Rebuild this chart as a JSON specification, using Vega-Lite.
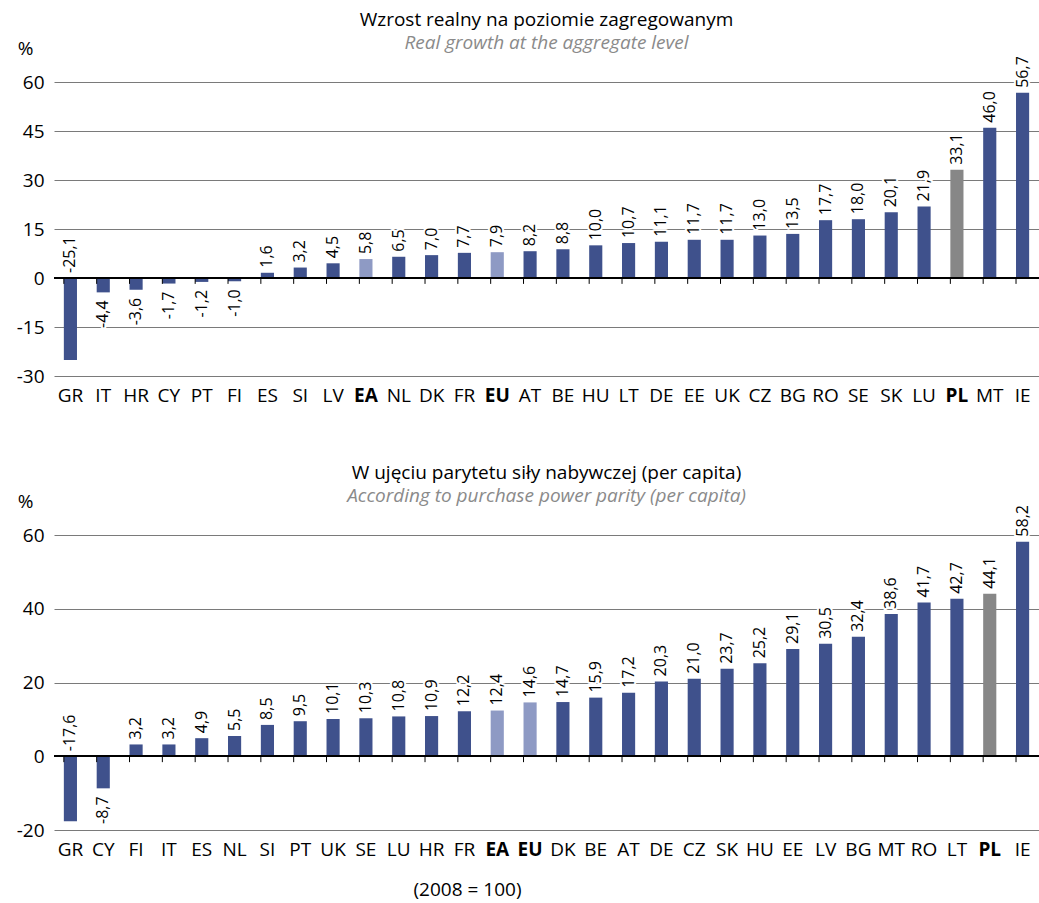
{
  "$schema": "https://vega.github.io/schema/vega-lite/v6.json",
  "padding": {"left": 16, "top": 11, "right": 0, "bottom": 6},
  "config": {
    "font": "Open Sans",
    "view": {"stroke": null},
    "locale": {"number": {"decimal": ",", "thousands": " ", "grouping": [3], "currency": ["", ""], "minus": "-"}},
    "title": {"fontSize": 19, "fontWeight": "normal", "color": "black", "subtitleFontSize": 19, "subtitleFontStyle": "italic", "subtitleColor": "#8a8a8a", "subtitlePadding": 4, "anchor": "middle", "frame": "group", "offset": -14},
    "axis": {"labelColor": "black", "titleColor": "black", "labelFontSize": 19},
    "concat": {"spacing": 59}
  },
  "title": {"text": "(2008 = 100)", "orient": "bottom", "anchor": "middle", "fontSize": 19, "dx": -79, "offset": 22},
  "vconcat": [
    {
      "width": 985,
      "height": 294,
      "title": {"text": "Wzrost realny na poziomie zagregowanym", "subtitle": "Real growth at the aggregate level"},
      "data": {"values": [
        {"kraj": "GR", "v": -25.1, "typ": "kraj"},
        {"kraj": "IT", "v": -4.4, "typ": "kraj"},
        {"kraj": "HR", "v": -3.6, "typ": "kraj"},
        {"kraj": "CY", "v": -1.7, "typ": "kraj"},
        {"kraj": "PT", "v": -1.2, "typ": "kraj"},
        {"kraj": "FI", "v": -1.0, "typ": "kraj"},
        {"kraj": "ES", "v": 1.6, "typ": "kraj"},
        {"kraj": "SI", "v": 3.2, "typ": "kraj"},
        {"kraj": "LV", "v": 4.5, "typ": "kraj"},
        {"kraj": "EA", "v": 5.8, "typ": "agregat"},
        {"kraj": "NL", "v": 6.5, "typ": "kraj"},
        {"kraj": "DK", "v": 7.0, "typ": "kraj"},
        {"kraj": "FR", "v": 7.7, "typ": "kraj"},
        {"kraj": "EU", "v": 7.9, "typ": "agregat"},
        {"kraj": "AT", "v": 8.2, "typ": "kraj"},
        {"kraj": "BE", "v": 8.8, "typ": "kraj"},
        {"kraj": "HU", "v": 10.0, "typ": "kraj"},
        {"kraj": "LT", "v": 10.7, "typ": "kraj"},
        {"kraj": "DE", "v": 11.1, "typ": "kraj"},
        {"kraj": "EE", "v": 11.7, "typ": "kraj"},
        {"kraj": "UK", "v": 11.7, "typ": "kraj"},
        {"kraj": "CZ", "v": 13.0, "typ": "kraj"},
        {"kraj": "BG", "v": 13.5, "typ": "kraj"},
        {"kraj": "RO", "v": 17.7, "typ": "kraj"},
        {"kraj": "SE", "v": 18.0, "typ": "kraj"},
        {"kraj": "SK", "v": 20.1, "typ": "kraj"},
        {"kraj": "LU", "v": 21.9, "typ": "kraj"},
        {"kraj": "PL", "v": 33.1, "typ": "Polska"},
        {"kraj": "MT", "v": 46.0, "typ": "kraj"},
        {"kraj": "IE", "v": 56.7, "typ": "kraj"}
      ]},
      "layer": [
        {
          "mark": {"type": "bar"},
          "encoding": {
            "x": {"field": "kraj", "type": "nominal", "sort": null, "scale": {"paddingInner": 0.6, "paddingOuter": 0.3},
              "axis": {"title": null, "domain": false, "ticks": false, "grid": false, "labelAngle": 0, "labelPadding": 10,
                "labelFontWeight": {"condition": {"test": "indexof(['EA','EU','PL'], datum.value) >= 0", "value": "bold"}, "value": "normal"}}},
            "y": {"field": "v", "type": "quantitative", "scale": {"domain": [-30, 60], "nice": false},
              "axis": {"values": [-30, -15, 0, 15, 30, 45, 60], "domain": false, "ticks": false, "grid": true, "gridColor": "#7a7a7a", "labelPadding": 10,
                "title": "%", "titleAngle": 0, "titleAlign": "center", "titleBaseline": "alphabetic", "titleX": -29, "titleY": -28, "titleFontWeight": "normal", "titleFontSize": 19}},
            "color": {"field": "typ", "type": "nominal", "scale": {"domain": ["kraj", "agregat", "Polska"], "range": ["#3f518c", "#8e9ac4", "#878787"]}, "legend": null}
          }
        },
        {
          "mark": {"type": "rule", "color": "black", "strokeWidth": 1},
          "encoding": {"y": {"datum": 0}}
        },
        {
          "mark": {"type": "rule", "color": "black", "strokeWidth": 1},
          "encoding": {
            "x": {"field": "kraj", "type": "nominal", "sort": null, "bandPosition": 0},
            "y": {"datum": 0},
            "y2": {"datum": -1.8}
          }
        },
        {
          "transform": [{"filter": "datum.v >= 0 || datum.v < -10"}, {"calculate": "datum.v < -10 ? 0 : datum.v", "as": "ly"}],
          "mark": {"type": "text", "angle": 270, "align": "left", "baseline": "middle", "dx": 5, "fontSize": 16, "stroke": "white", "strokeWidth": 4, "strokeJoin": "round"},
          "encoding": {
            "x": {"field": "kraj", "type": "nominal", "sort": null},
            "y": {"field": "ly", "type": "quantitative"},
            "text": {"field": "v", "type": "quantitative", "format": ".1f"}
          }
        },
        {
          "transform": [{"filter": "datum.v >= 0 || datum.v < -10"}, {"calculate": "datum.v < -10 ? 0 : datum.v", "as": "ly"}],
          "mark": {"type": "text", "angle": 270, "align": "left", "baseline": "middle", "dx": 5, "fontSize": 16, "color": "black"},
          "encoding": {
            "x": {"field": "kraj", "type": "nominal", "sort": null},
            "y": {"field": "ly", "type": "quantitative"},
            "text": {"field": "v", "type": "quantitative", "format": ".1f"}
          }
        },
        {
          "transform": [{"filter": "datum.v < 0 && datum.v >= -10"}],
          "mark": {"type": "text", "angle": 270, "align": "right", "baseline": "middle", "dx": -8, "fontSize": 16, "stroke": "white", "strokeWidth": 4, "strokeJoin": "round"},
          "encoding": {
            "x": {"field": "kraj", "type": "nominal", "sort": null},
            "y": {"field": "v", "type": "quantitative"},
            "text": {"field": "v", "type": "quantitative", "format": ".1f"}
          }
        },
        {
          "transform": [{"filter": "datum.v < 0 && datum.v >= -10"}],
          "mark": {"type": "text", "angle": 270, "align": "right", "baseline": "middle", "dx": -8, "fontSize": 16, "color": "black"},
          "encoding": {
            "x": {"field": "kraj", "type": "nominal", "sort": null},
            "y": {"field": "v", "type": "quantitative"},
            "text": {"field": "v", "type": "quantitative", "format": ".1f"}
          }
        }
      ]
    },
    {
      "width": 985,
      "height": 295,
      "title": {"text": "W ujęciu parytetu siły nabywczej (per capita)", "subtitle": "According to purchase power parity (per capita)"},
      "data": {"values": [
        {"kraj": "GR", "v": -17.6, "typ": "kraj"},
        {"kraj": "CY", "v": -8.7, "typ": "kraj"},
        {"kraj": "FI", "v": 3.2, "typ": "kraj"},
        {"kraj": "IT", "v": 3.2, "typ": "kraj"},
        {"kraj": "ES", "v": 4.9, "typ": "kraj"},
        {"kraj": "NL", "v": 5.5, "typ": "kraj"},
        {"kraj": "SI", "v": 8.5, "typ": "kraj"},
        {"kraj": "PT", "v": 9.5, "typ": "kraj"},
        {"kraj": "UK", "v": 10.1, "typ": "kraj"},
        {"kraj": "SE", "v": 10.3, "typ": "kraj"},
        {"kraj": "LU", "v": 10.8, "typ": "kraj"},
        {"kraj": "HR", "v": 10.9, "typ": "kraj"},
        {"kraj": "FR", "v": 12.2, "typ": "kraj"},
        {"kraj": "EA", "v": 12.4, "typ": "agregat"},
        {"kraj": "EU", "v": 14.6, "typ": "agregat"},
        {"kraj": "DK", "v": 14.7, "typ": "kraj"},
        {"kraj": "BE", "v": 15.9, "typ": "kraj"},
        {"kraj": "AT", "v": 17.2, "typ": "kraj"},
        {"kraj": "DE", "v": 20.3, "typ": "kraj"},
        {"kraj": "CZ", "v": 21.0, "typ": "kraj"},
        {"kraj": "SK", "v": 23.7, "typ": "kraj"},
        {"kraj": "HU", "v": 25.2, "typ": "kraj"},
        {"kraj": "EE", "v": 29.1, "typ": "kraj"},
        {"kraj": "LV", "v": 30.5, "typ": "kraj"},
        {"kraj": "BG", "v": 32.4, "typ": "kraj"},
        {"kraj": "MT", "v": 38.6, "typ": "kraj"},
        {"kraj": "RO", "v": 41.7, "typ": "kraj"},
        {"kraj": "LT", "v": 42.7, "typ": "kraj"},
        {"kraj": "PL", "v": 44.1, "typ": "Polska"},
        {"kraj": "IE", "v": 58.2, "typ": "kraj"}
      ]},
      "layer": [
        {
          "mark": {"type": "bar"},
          "encoding": {
            "x": {"field": "kraj", "type": "nominal", "sort": null, "scale": {"paddingInner": 0.6, "paddingOuter": 0.3},
              "axis": {"title": null, "domain": false, "ticks": false, "grid": false, "labelAngle": 0, "labelPadding": 10,
                "labelFontWeight": {"condition": {"test": "indexof(['EA','EU','PL'], datum.value) >= 0", "value": "bold"}, "value": "normal"}}},
            "y": {"field": "v", "type": "quantitative", "scale": {"domain": [-20, 60], "nice": false},
              "axis": {"values": [-20, 0, 20, 40, 60], "domain": false, "ticks": false, "grid": true, "gridColor": "#7a7a7a", "labelPadding": 10,
                "title": "%", "titleAngle": 0, "titleAlign": "center", "titleBaseline": "alphabetic", "titleX": -29, "titleY": -28, "titleFontWeight": "normal", "titleFontSize": 19}},
            "color": {"field": "typ", "type": "nominal", "scale": {"domain": ["kraj", "agregat", "Polska"], "range": ["#3f518c", "#8e9ac4", "#878787"]}, "legend": null}
          }
        },
        {
          "mark": {"type": "rule", "color": "black", "strokeWidth": 1},
          "encoding": {"y": {"datum": 0}}
        },
        {
          "mark": {"type": "rule", "color": "black", "strokeWidth": 1},
          "encoding": {
            "x": {"field": "kraj", "type": "nominal", "sort": null, "bandPosition": 0},
            "y": {"datum": 0},
            "y2": {"datum": -1.6}
          }
        },
        {
          "transform": [{"filter": "datum.v >= 0 || datum.v < -10"}, {"calculate": "datum.v < -10 ? 0 : datum.v", "as": "ly"}],
          "mark": {"type": "text", "angle": 270, "align": "left", "baseline": "middle", "dx": 5, "fontSize": 16, "stroke": "white", "strokeWidth": 4, "strokeJoin": "round"},
          "encoding": {
            "x": {"field": "kraj", "type": "nominal", "sort": null},
            "y": {"field": "ly", "type": "quantitative"},
            "text": {"field": "v", "type": "quantitative", "format": ".1f"}
          }
        },
        {
          "transform": [{"filter": "datum.v >= 0 || datum.v < -10"}, {"calculate": "datum.v < -10 ? 0 : datum.v", "as": "ly"}],
          "mark": {"type": "text", "angle": 270, "align": "left", "baseline": "middle", "dx": 5, "fontSize": 16, "color": "black"},
          "encoding": {
            "x": {"field": "kraj", "type": "nominal", "sort": null},
            "y": {"field": "ly", "type": "quantitative"},
            "text": {"field": "v", "type": "quantitative", "format": ".1f"}
          }
        },
        {
          "transform": [{"filter": "datum.v < 0 && datum.v >= -10"}],
          "mark": {"type": "text", "angle": 270, "align": "right", "baseline": "middle", "dx": -8, "fontSize": 16, "stroke": "white", "strokeWidth": 4, "strokeJoin": "round"},
          "encoding": {
            "x": {"field": "kraj", "type": "nominal", "sort": null},
            "y": {"field": "v", "type": "quantitative"},
            "text": {"field": "v", "type": "quantitative", "format": ".1f"}
          }
        },
        {
          "transform": [{"filter": "datum.v < 0 && datum.v >= -10"}],
          "mark": {"type": "text", "angle": 270, "align": "right", "baseline": "middle", "dx": -8, "fontSize": 16, "color": "black"},
          "encoding": {
            "x": {"field": "kraj", "type": "nominal", "sort": null},
            "y": {"field": "v", "type": "quantitative"},
            "text": {"field": "v", "type": "quantitative", "format": ".1f"}
          }
        }
      ]
    }
  ]
}
